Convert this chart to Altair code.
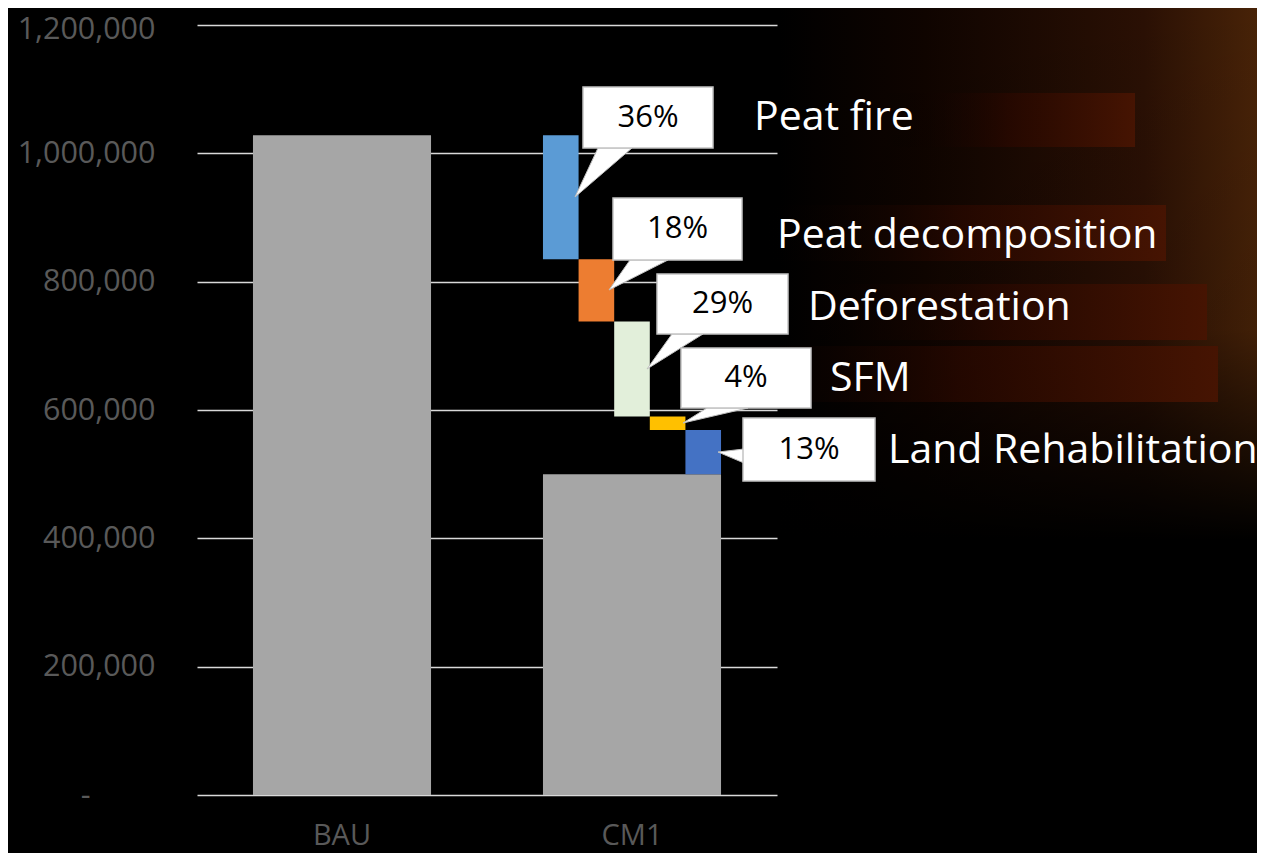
import altair as alt
import pandas as pd

# ---------------- data ----------------
categories = ["BAU", "CM1"]
totals = [1028000, 500000]

segments = ["Peat fire", "Peat decomposition", "Deforestation", "SFM", "Land Rehabilitation"]
reductions = [193000, 97000, 148000, 21000, 69000]
shares = ["36%", "18%", "29%", "4%", "13%"]
segment_colors = ["#5b9bd5", "#ed7d31", "#e2efda", "#ffc000", "#4472c4"]

y_ticks = [0, 200000, 400000, 600000, 800000, 1000000, 1200000]

# ---------------- layout (pixels, page coordinates) ----------------
ORIGIN_X, ORIGIN_Y = 197, 25   # top-left of the plot area on the page
PLOT_W, PLOT_H = 580, 770
SVG_W, SVG_H = 1249, 845

# callout boxes: x0, x1, y0, y1
box_layout = [
    (583, 713, 87, 148),
    (613, 742, 198, 260),
    (657, 788, 274, 334),
    (681, 811, 348, 408),
    (743, 875, 418, 481),
]
# callout pointers: tip, base point 1, base point 2
pointer_layout = [
    ((575, 197), (598, 148), (632, 148)),
    ((609, 290), (630, 260), (668, 260)),
    ((647, 369), (672, 334), (703, 334)),
    ((683, 423), (707, 408), (748, 408)),
    ((718, 452), (744, 449), (744, 463)),
]
# category label anchor: left x, baseline y
label_layout = [(754, 130), (777, 248), (808, 320), (830, 391), (888, 463)]

# decorative background strips behind labels: x0, x1, y0, y1
strip_layout = [
    (880, 1135, 93, 147),
    (760, 1166, 205, 261),
    (790, 1207, 284, 340),
    (700, 1218, 346, 402),
]

# ---------------- tables ----------------
bars_df = pd.DataFrame({"scenario": categories, "value": totals})

tops, bottoms = [], []
level = totals[0]
for r in reductions:
    tops.append(level)
    level -= r
    bottoms.append(level)
seg_df = pd.DataFrame({
    "scenario": ["CM1"] * len(segments),
    "segment": segments,
    "top": tops,
    "bottom": bottoms,
})

def px(x):
    return x - ORIGIN_X

def py(y):
    return y - ORIGIN_Y

box_df = pd.DataFrame({
    "x0": [px(b[0]) for b in box_layout],
    "x1": [px(b[1]) for b in box_layout],
    "y0": [py(b[2]) for b in box_layout],
    "y1": [py(b[3]) for b in box_layout],
    "cx": [px((b[0] + b[1]) / 2) for b in box_layout],
    "cy": [py((b[2] + b[3]) / 2) for b in box_layout],
    "share": shares,
})

paths = []
for (tx, ty), (ax, ay), (bx, by) in pointer_layout:
    paths.append(f"M0,0L{ax - tx},{ay - ty}L{bx - tx},{by - ty}Z")
ptr_df = pd.DataFrame({
    "tx": [px(p[0][0]) for p in pointer_layout],
    "ty": [py(p[0][1]) for p in pointer_layout],
    "path": paths,
})

lab_df = pd.DataFrame({
    "lx": [px(l[0]) for l in label_layout],
    "ly": [py(l[1]) for l in label_layout],
    "label": segments,
})

strip_df = pd.DataFrame({
    "x0": [px(s[0]) for s in strip_layout],
    "x1": [px(s[1]) for s in strip_layout],
    "y0": [py(s[2]) for s in strip_layout],
    "y1": [py(s[3]) for s in strip_layout],
})

glow_df = pd.DataFrame({"x0": [px(779)], "x1": [px(1265)], "y0": [py(0)], "y1": [py(600)]})

FONT = "Open Sans"

# ---------------- background decoration ----------------
glow = alt.Chart(glow_df).mark_rect(
    color=alt.LinearGradient(
        gradient="linear", x1=0, x2=1, y1=0, y2=0,
        stops=[
            alt.GradientStop(color="#000000", offset=0),
            alt.GradientStop(color="#0f0400", offset=0.3),
            alt.GradientStop(color="#2a1004", offset=0.75),
            alt.GradientStop(color="#4a2408", offset=1),
        ],
    )
).encode(
    x=alt.X("x0:Q", scale=None, axis=None), x2="x1:Q",
    y=alt.Y("y0:Q", scale=None, axis=None), y2="y1:Q",
)
fade = alt.Chart(glow_df).mark_rect(
    color=alt.LinearGradient(
        gradient="linear", x1=0, x2=0, y1=0, y2=1,
        stops=[
            alt.GradientStop(color="rgba(0,0,0,0)", offset=0),
            alt.GradientStop(color="rgba(0,0,0,0.1)", offset=0.55),
            alt.GradientStop(color="rgba(0,0,0,1)", offset=0.9),
        ],
    )
).encode(
    x=alt.X("x0:Q", scale=None, axis=None), x2="x1:Q",
    y=alt.Y("y0:Q", scale=None, axis=None), y2="y1:Q",
)
strips = alt.Chart(strip_df).mark_rect(
    color=alt.LinearGradient(
        gradient="linear", x1=0, x2=1, y1=0, y2=0,
        stops=[
            alt.GradientStop(color="rgba(0,0,0,0)", offset=0),
            alt.GradientStop(color="rgba(40,8,0,0.8)", offset=0.5),
            alt.GradientStop(color="rgba(70,20,2,1)", offset=1),
        ],
    )
).encode(
    x=alt.X("x0:Q", scale=None, axis=None), x2="x1:Q",
    y=alt.Y("y0:Q", scale=None, axis=None), y2="y1:Q",
)
background = alt.layer(glow, fade, strips)

# ---------------- main chart ----------------
x_enc = alt.X(
    "scenario:N",
    sort=categories,
    scale=alt.Scale(domain=categories, paddingInner=0.386, paddingOuter=0.193),
    axis=alt.Axis(
        title=None, labelColor="#595959", labelFont=FONT, labelFontSize=29,
        labelPadding=26, ticks=False, domain=False, labelAngle=0, grid=False,
    ),
)
y_scale = alt.Scale(domain=[0, 1200000], nice=False, zero=True)
y_axis = alt.Axis(
    title=None, values=y_ticks, grid=True, gridColor="#d9d9d9", gridWidth=1.6,
    domain=False, ticks=False, tickSize=0,
    labelPadding={"condition": {"test": "datum.value === 0", "value": 107}, "value": 42},
    labelOffset={"condition": {"test": "datum.value === 1200000", "value": 4}, "value": 0},
    labelColor="#595959", labelFont=FONT, labelFontSize=30.5,
    labelExpr="datum.value === 0 ? '-' : format(datum.value, ',')",
)

bars = alt.Chart(bars_df).mark_bar(color="#a6a6a6").encode(
    x=x_enc,
    y=alt.Y("value:Q", scale=y_scale, axis=y_axis),
)

seg = alt.Chart(seg_df).mark_bar().encode(
    x=x_enc,
    xOffset=alt.XOffset("segment:N", sort=segments,
                        scale=alt.Scale(domain=segments, paddingInner=0, paddingOuter=0)),
    y=alt.Y("top:Q", scale=y_scale, axis=y_axis),
    y2="bottom:Q",
    color=alt.Color("segment:N", scale=alt.Scale(domain=segments, range=segment_colors), legend=None),
)

main = alt.layer(bars, seg)

# ---------------- callouts ----------------
pointers = alt.Chart(ptr_df).mark_point(
    filled=True, fill="white", stroke="#bfbfbf", strokeWidth=1, opacity=1
).encode(
    x=alt.X("tx:Q", scale=None, axis=None),
    y=alt.Y("ty:Q", scale=None, axis=None),
    shape=alt.Shape("path:N", scale=None, legend=None),
    size=alt.value(4),
)
boxes = alt.Chart(box_df).mark_rect(fill="white", stroke="#c4c4c4", strokeWidth=1.5).encode(
    x=alt.X("x0:Q", scale=None, axis=None), x2="x1:Q",
    y=alt.Y("y0:Q", scale=None, axis=None), y2="y1:Q",
)
share_text = alt.Chart(box_df).mark_text(
    font=FONT, fontSize=31, color="black", align="center", baseline="middle"
).encode(
    x=alt.X("cx:Q", scale=None, axis=None),
    y=alt.Y("cy:Q", scale=None, axis=None),
    text="share:N",
)
labels = alt.Chart(lab_df).mark_text(
    font=FONT, fontSize=41, color="white", align="left", baseline="alphabetic"
).encode(
    x=alt.X("lx:Q", scale=None, axis=None),
    y=alt.Y("ly:Q", scale=None, axis=None),
    text="label:N",
)
callouts = alt.layer(pointers, boxes, share_text, labels)

chart = alt.layer(background, main, callouts).resolve_scale(
    x="independent", y="independent"
).properties(
    width=PLOT_W,
    height=PLOT_H,
    autosize=alt.AutoSizeParams(type="none"),
    padding={
        "left": ORIGIN_X - 8,
        "top": ORIGIN_Y - 8,
        "right": SVG_W - (ORIGIN_X - 8) - PLOT_W,
        "bottom": SVG_H - (ORIGIN_Y - 8) - PLOT_H,
    },
    background="black",
).configure_view(stroke=None)

chart.save("out.html", embed_options={"renderer": "svg", "actions": False})
